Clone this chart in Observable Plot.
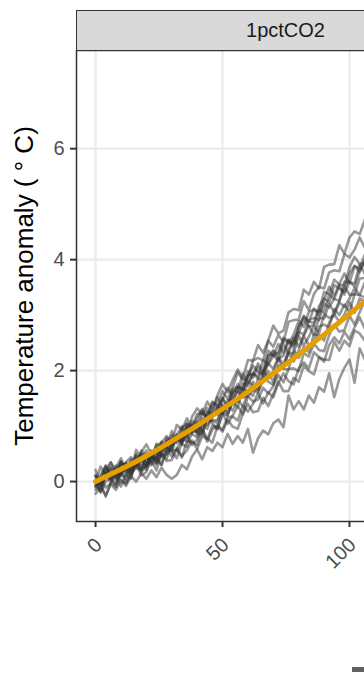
<!DOCTYPE html>
<html><head><meta charset="utf-8">
<script src="https://cdn.jsdelivr.net/npm/d3@7"></script>
<script src="https://cdn.jsdelivr.net/npm/@observablehq/plot@0.6"></script>
<style>
html,body{margin:0;padding:0;background:#fff;overflow:hidden;width:364px;height:678px}
#wrap{position:relative;width:364px;height:678px;overflow:hidden}
#chart{position:absolute;left:0;top:0;width:505px}
#chart svg{max-width:none !important;width:505px;height:678px}
#strip{position:absolute;top:10px;height:41px;background:#d9d9d9;border:1.5px solid #333;box-sizing:border-box;font:20px "Liberation Sans",Arial,sans-serif;color:#1a1a1a;display:flex;align-items:center;justify-content:center}
#key{position:absolute;left:352px;top:667px;width:30px;height:5px;background:#606060}
</style></head>
<body><div id="wrap"><div id="chart"></div><div id="strip"></div><div id="key"></div></div>
<script>
const panelLabel = "1pctCO2";
const yTitle = "Temperature anomaly ( ° C)";
const xTicks = [0, 50, 100, 150];
const yTicks = [0, 2, 4, 6];

const years = [0,2,4,6,8,10,12,14,16,18,20,22,24,26,28,30,32,34,36,38,40,42,44,46,48,50,52,54,56,58,60,62,64,66,68,70,72,74,76,78,80,82,84,86,88,90,92,94,96,98,100,102,104,106];
const runNames = ["run01","run02","run03","run04","run05","run06","run07","run08","run09","run10","run11","run12","run13","run14","run15"];
const run01 = [.10,.01,.26,.13,.25,.42,.21,.40,.28,.53,.67,.50,.43,.70,.82,.72,1.02,.94,.86,1.17,1.32,1.22,1.44,1.30,1.55,1.76,1.61,1.83,2.02,1.86,2.19,2.18,2.46,2.32,2.54,2.81,2.67,2.72,3.05,3.11,3.09,3.46,3.37,3.60,3.48,3.87,3.91,3.92,4.26,4.11,4.40,4.51,4.46,4.71];
const run02 = [.09,-.04,.21,.35,.19,.10,.35,.44,.30,.56,.44,.32,.60,.72,.62,.83,.69,.93,1.14,.96,1.15,1.31,1.12,1.42,1.39,1.63,1.49,1.70,1.97,1.83,1.86,2.18,2.23,2.18,2.54,2.43,2.64,2.51,2.88,2.91,2.92,3.25,3.09,3.38,3.51,3.48,3.77,3.81,3.79,4.10,4.04,4.18,4.40,4.22];
const run03 = [.12,-.06,.14,.34,.15,.12,.33,.24,.49,.37,.27,.56,.49,.45,.79,.63,.81,.71,1.03,.99,.89,1.20,1.33,1.18,1.30,1.51,1.35,1.64,1.62,1.95,1.77,1.93,2.13,2.00,2.36,2.27,2.33,2.57,2.49,2.65,2.89,2.79,3.06,3.10,3.06,3.42,3.38,3.64,3.55,3.54,3.86,4.05,3.92,3.95];
const run04 = [-.10,.11,.28,.06,.22,.34,.10,.38,.30,.51,.31,.45,.66,.47,.48,.77,.79,.72,1.03,.90,1.08,.92,1.26,1.24,1.21,1.50,1.33,1.59,1.70,1.66,1.91,1.94,1.90,2.19,2.11,2.26,2.48,2.32,2.56,2.49,2.79,2.99,2.88,2.86,3.16,3.30,3.23,3.54,3.48,3.42,3.75,3.89,3.78,3.99];
const run05 = [-.02,-.16,.13,.05,-.08,.19,.34,.16,.24,.42,.21,.44,.42,.70,.50,.64,.81,.66,.98,.88,.92,1.12,1.02,1.15,1.34,1.21,1.46,1.48,1.44,1.78,1.72,1.96,1.85,1.84,2.14,2.34,2.21,2.27,2.54,2.41,2.67,2.93,2.79,2.82,3.09,3.05,3.37,3.29,3.26,3.60,3.59,3.57,3.91,3.75];
const run06 = [-.01,.27,.11,.25,.06,.36,.26,.20,.46,.24,.44,.50,.40,.62,.62,.55,.82,.71,.84,1.03,.85,1.05,.95,1.22,1.38,1.23,1.19,1.49,1.61,1.52,1.81,1.73,1.66,1.97,2.13,2.03,2.24,2.11,2.37,2.59,2.43,2.63,2.81,2.64,2.95,2.94,3.20,3.05,3.25,3.51,3.37,3.37,3.66,3.67];
const run07 = [-.08,-.18,.11,.00,.20,.03,-.04,.21,.46,.29,.28,.49,.31,.51,.73,.57,.56,.80,.72,1.00,.89,.83,1.14,1.09,1.06,1.39,1.24,1.43,1.34,1.67,1.63,1.54,1.86,2.00,1.87,1.99,2.21,2.04,2.33,2.30,2.63,2.45,2.61,2.81,2.67,3.02,2.95,3.00,3.23,3.15,3.30,3.49,3.36,3.59];
const run08 = [.03,-.20,.00,.06,-.04,.16,.21,.12,.35,.21,.31,.47,.33,.51,.41,.67,.83,.68,.62,.89,.99,.87,1.15,1.05,.94,1.23,1.38,1.28,1.49,1.35,1.60,1.80,1.63,1.82,1.99,1.79,2.10,2.07,2.32,2.16,2.36,2.62,2.46,2.49,2.79,2.83,2.78,3.11,3.00,3.19,3.05,3.38,3.36,3.32];
const run09 = [-.02,-.06,.15,.04,.29,.15,.05,.33,.25,.19,.49,.29,.43,.30,.59,.54,.42,.71,.83,.66,.76,.96,.76,1.01,.96,1.24,1.04,1.19,1.36,1.21,1.54,1.44,1.48,1.69,1.59,1.72,1.92,1.79,2.03,2.04,1.99,2.32,2.25,2.49,2.37,2.35,2.64,2.83,2.70,2.73,2.99,2.83,3.05,3.26];
const run10 = [-.15,-.03,-.27,-.02,-.10,.20,-.02,.12,.32,.11,.17,.42,.40,.30,.60,.45,.61,.43,.74,.71,.66,.93,.72,.94,1.02,.93,1.16,1.17,1.10,1.37,1.26,1.40,1.59,1.41,1.61,1.52,1.78,1.95,1.81,1.75,2.04,2.15,2.04,2.33,2.24,2.16,2.46,2.60,2.49,2.70,2.56,2.78,2.96,2.76];
const run11 = [.00,.08,-.11,-.03,.14,-.09,.13,.05,.41,.17,.27,.39,.20,.50,.37,.39,.58,.46,.56,.74,.59,.81,.78,.70,1.00,.90,1.12,.99,.95,1.22,1.40,1.25,1.27,1.51,1.36,1.58,1.80,1.63,1.63,1.87,1.80,2.09,1.99,1.93,2.24,2.20,2.19,2.52,2.36,2.54,2.44,2.72,2.67,2.54];
const run12 = [-.22,-.10,-.25,-.05,-.15,.02,-.08,.10,.00,.15,.05,.20,.08,.25,.12,.05,.12,.30,.22,.45,.58,.40,.62,.55,.70,.62,.86,.68,.82,.70,.95,.52,.78,.92,.85,1.05,1.12,.98,1.55,1.30,1.45,1.30,1.55,1.42,1.70,1.62,1.95,1.52,1.85,2.05,2.20,1.78,2.40,2.20];
const run13 = [.01,-.08,.17,.25,.11,.36,.23,.12,.38,.49,.34,.51,.34,.55,.75,.67,.84,1.00,.79,1.09,1.04,1.28,1.11,1.28,1.52,1.34,1.36,1.67,1.71,1.66,1.99,1.87,2.07,1.92,2.28,2.28,2.17,2.48,2.31,2.57,2.70,2.65,2.91,2.95,2.91,3.21,3.14,3.30,3.53,3.37,3.61,3.51,3.79,3.95];
const run14 = [.21,-.04,.08,.21,.03,.31,.17,.18,.35,.21,.30,.46,.42,.63,.62,.55,.85,.77,.99,.85,.80,1.07,1.25,1.10,1.11,1.35,1.20,1.44,1.68,1.52,1.53,1.66,1.60,1.89,1.80,1.74,2.06,2.03,2.02,2.37,2.23,2.42,2.33,2.66,2.63,2.54,2.87,3.01,2.88,3.01,3.23,3.04,3.30,3.25];
const run15 = [-.07,.08,.29,.08,.07,.32,.31,.21,.57,.42,.56,.37,.68,.65,.62,.91,.72,.96,1.05,.98,1.22,1.23,1.17,1.44,1.34,1.48,1.69,1.54,1.76,1.62,1.90,2.09,1.97,1.94,2.24,2.37,2.28,2.59,2.53,2.46,2.79,2.97,2.88,3.12,3.00,3.27,3.51,3.35,3.56,3.75,3.58,3.88,3.85,4.09];
const runValues = [run01,run02,run03,run04,run05,run06,run07,run08,run09,run10,run11,run12,run13,run14,run15];

const emulatorYears = [0,10,20,30,40,50,60,70,80,90,100,110,120,130,140,150];
const emulatorValues = [0,.22,.46,.73,1.01,1.31,1.62,1.95,2.29,2.65,3.02,3.41,3.80,4.20,4.60,5.00];

const runData = runNames.flatMap((name, j) => runValues[j].map((v, i) => ({run: name, year: years[i], value: v})));
const emuData = emulatorYears.map((yr, i) => ({year: yr, value: emulatorValues[i]}));

const font = '"Liberation Sans", Arial, Helvetica, sans-serif';
const plot = Plot.plot({
  width: 505, height: 678,
  marginLeft: 76, marginRight: 10, marginTop: 50, marginBottom: 157,
  style: {fontFamily: font, background: "#fff", overflow: "visible", maxWidth: "none"},
  x: {domain: [-7.5, 157.5], label: null},
  y: {domain: [-0.72, 7.77], label: null},
  marks: [
    Plot.gridX(xTicks, {stroke: "#ebebeb", strokeOpacity: 1, strokeWidth: 2.2}),
    Plot.gridY(yTicks, {stroke: "#ebebeb", strokeOpacity: 1, strokeWidth: 2.2}),
    Plot.line(runData, {x: "year", y: "value", z: "run", stroke: "#333", strokeOpacity: 0.5, strokeWidth: 2.6, strokeLinejoin: "round"}),
    Plot.line(emuData, {x: "year", y: "value", stroke: "#E69F00", strokeWidth: 5, curve: "natural"}),
    Plot.frame({stroke: "#333", strokeWidth: 1.5}),
    Plot.axisX(xTicks, {tickSize: 6, fill: "none", stroke: "#333", strokeWidth: 2, label: null}),
    Plot.axisX(xTicks, {tickSize: 6, tickPadding: 14, tickRotate: -45, dx: 3, fontSize: 20, stroke: "none", fill: "#4d4d4d", label: null, tickFormat: d3.format("d")}),
    Plot.axisY(yTicks, {tickSize: 6, tickPadding: 6, fontSize: 20, stroke: "#333", fill: "#4d4d4d", strokeWidth: 2, label: null, tickFormat: d3.format("d")}),
    Plot.text([yTitle], {frameAnchor: "left", dx: -52, rotate: -90, fontSize: 26, fill: "#000", textAnchor: "middle", lineAnchor: "middle"})
  ]
});
document.getElementById("chart").appendChild(plot);
const xr = plot.scale("x").range;
const strip = document.getElementById("strip");
strip.textContent = panelLabel;
strip.style.left = xr[0] + "px";
strip.style.width = (xr[1] - xr[0]) + "px";
</script>
</body></html>
